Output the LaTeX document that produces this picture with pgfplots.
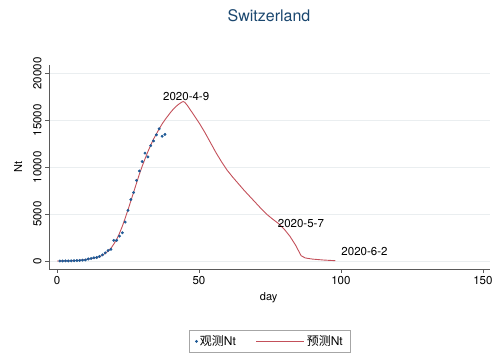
\documentclass[border=0pt]{standalone}
\usepackage{pgfplots}
\pgfplotsset{compat=1.18}
\usepackage{fontspec}
\setmainfont{TeX Gyre Heros}
\newfontfamily\cjk{Noto Sans CJK SC}
\definecolor{stblue}{RGB}{26,71,111}
\definecolor{dotblue}{RGB}{30,90,150}
\definecolor{linered}{RGB}{195,80,90}
\definecolor{gridc}{RGB}{234,238,240}
\definecolor{axc}{RGB}{90,90,90}
\begin{document}
\begin{tikzpicture}
\path[use as bounding box] (0,0) rectangle (493pt,358pt);
\node[text=stblue,font=\fontsize{16}{18}\selectfont] at (269pt,342pt) {Switzerland};
\begin{axis}[
  at={(49pt,89pt)}, anchor=south west,
  scale only axis, width=441pt, height=204pt,
  xmin=-2.82, xmax=152.5, ymin=-854, ymax=20900,
  axis x line*=bottom, axis y line*=left,
  axis line style={axc,line width=0.6pt,-},
  xtick={0,50,100,150}, ytick={0,5000,10000,15000,20000},
  tick style={axc,line width=0.6pt},
  tick align=outside, major tick length=4pt,
  scaled y ticks=false,
  yticklabel style={rotate=90,anchor=south,font=\fontsize{11.5}{13}\selectfont},
  xticklabel style={font=\fontsize{11.5}{13}\selectfont},
  /pgf/number format/assume math mode=true,
  /pgf/number format/1000 sep={},
  ymajorgrids, grid style={gridc,line width=0.6pt},
  xlabel={day}, ylabel={Nt},
  xlabel style={font=\fontsize{11}{13}\selectfont, at={(axis description cs:0.498,-0.142)}, anchor=center},
  ylabel style={font=\fontsize{11}{13}\selectfont, at={(axis description cs:-0.070,0.5)}, anchor=center, rotate=0},
  legend columns=2,
  legend style={at={(0.501,-0.355)}, anchor=center, draw=gray!70, line width=0.6pt,
     font=\fontsize{12}{14}\selectfont, inner xsep=6pt, inner ysep=3pt,
     /tikz/every even column/.append style={column sep=18pt}},
  clip=false,
]
\addplot[only marks, mark=*, mark size=1.25pt, color=dotblue,
  legend image code/.code={\fill[dotblue] (3pt,0pt) circle (1.1pt);}]
coordinates {
(1,1)(2,1)(3,8)(4,8)(5,18)(6,27)(7,42)(8,56)(9,90)(10,114)
(11,214)(12,268)(13,337)(14,374)(15,491)(16,652)(17,858)(18,1125)
(19,1250)(20,2200)(21,2200)(22,2650)(23,3010)(24,4150)(25,5400)
(26,6550)(27,7300)(28,8600)(29,9600)(30,10600)(31,11500)(32,11100)
(33,12300)(34,12800)(35,13450)(36,14100)(37,13300)(38,13500)
};
\addlegendentry{{\cjk 观测}Nt}
\addplot[color=linered, line width=0.9pt, no marks,
  legend image code/.code={\draw[linered,line width=0.9pt] (0pt,0pt) -- (48pt,0pt);}]
coordinates {
(0,0)(3,10)(6,40)(9,100)(12,250)(14,380)(15,470)(16,620)(17,820)(18,1050)
(19,1350)(20,1800)(21,2300)(22,2950)(23,3700)(24,4550)(25,5450)(26,6400)
(27,7350)(28,8300)(29,9250)(30,10100)(31,10900)(32,11650)(33,12350)
(34,13000)(35,13550)(36,14100)(37,14600)(38,15050)(39,15450)(40,15850)
(41,16200)(42,16500)(43,16750)(44,16950)(44.5,17000)(45,16920)(46,16550)
(48,15650)(50,14750)(52,13750)(54,12650)(56,11550)(58,10550)(60,9650)
(62,8900)(64,8200)(66,7500)(68,6850)(70,6200)(72,5550)(74,4950)(76,4450)
(78,4000)(80,3400)(82,2650)(84,1700)(86,550)(87.5,320)(90,200)(94,100)(98,30)
};
\addlegendentry{{\cjk 预测}Nt}
\node[font=\fontsize{11.5}{13}\selectfont] at (axis cs:45.5,17530) {2020-4-9};
\node[font=\fontsize{11.5}{13}\selectfont] at (axis cs:85.9,3950) {2020-5-7};
\node[font=\fontsize{11.5}{13}\selectfont] at (axis cs:108.3,960) {2020-6-2};
\end{axis}
\end{tikzpicture}
\end{document}
